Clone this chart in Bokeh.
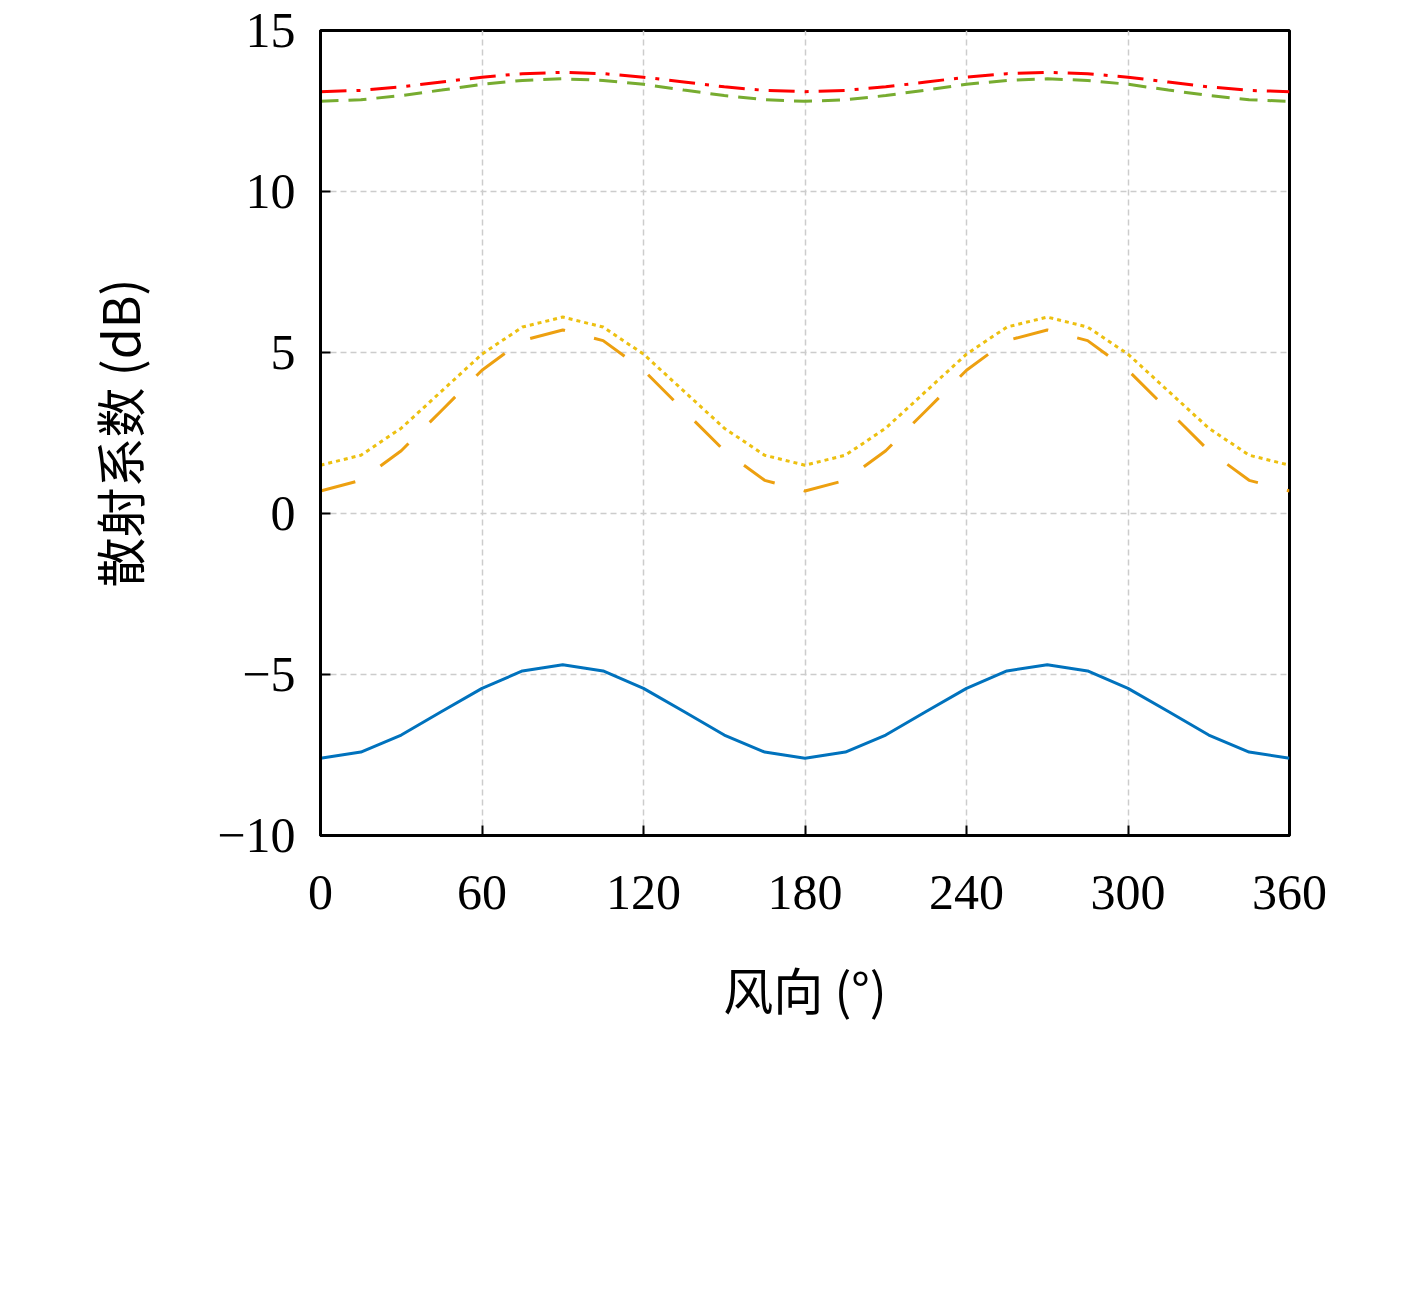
from bokeh.plotting import figure
from bokeh.models import Legend, LegendItem, FixedTicker
from bokeh.embed import file_html
from bokeh.resources import INLINE

wind = [0,15,30,45,60,75,90,105,120,135,150,165,180,195,210,225,240,255,270,285,300,315,330,345,360]
m30 = [-7.6,-7.41,-6.88,-6.15,-5.43,-4.89,-4.7,-4.89,-5.43,-6.15,-6.88,-7.41,-7.6,-7.41,-6.88,-6.15,-5.43,-4.89,-4.7,-4.89,-5.43,-6.15,-6.88,-7.41,-7.6]
m10 = [0.7,1.03,1.95,3.2,4.45,5.37,5.7,5.37,4.45,3.2,1.95,1.03,0.7,1.03,1.95,3.2,4.45,5.37,5.7,5.37,4.45,3.2,1.95,1.03,0.7]
p10 = [13.1,13.14,13.25,13.4,13.55,13.66,13.7,13.66,13.55,13.4,13.25,13.14,13.1,13.14,13.25,13.4,13.55,13.66,13.7,13.66,13.55,13.4,13.25,13.14,13.1]
p30 = [12.8,12.85,12.98,13.15,13.33,13.45,13.5,13.45,13.33,13.15,12.98,12.85,12.8,12.85,12.98,13.15,13.33,13.45,13.5,13.45,13.33,13.15,12.98,12.85,12.8]
p50 = [1.5,1.81,2.65,3.8,4.95,5.79,6.1,5.79,4.95,3.8,2.65,1.81,1.5,1.81,2.65,3.8,4.95,5.79,6.1,5.79,4.95,3.8,2.65,1.81,1.5]
xticks = [0,60,120,180,240,300,360]
yticks = [-10,-5,0,5,10,15]

p = figure(frame_width=969, frame_height=805, x_range=(0,360), y_range=(-10,15),
           output_backend="svg", toolbar_location=None,
           min_border_left=320, min_border_top=30, min_border_right=100,
           min_border_bottom=458)
serif = "Liberation Serif"
r1 = p.line(wind, m30, color="#0072BD", line_width=3)
r2 = p.line(wind, m10, color="#EDA010", line_width=3, line_dash="36 30")
r3 = p.line(wind, p10, color="#FF0000", line_width=3, line_dash="26 10 4 10")
r4 = p.line(wind, p30, color="#77AC30", line_width=3, line_dash="18 10")
r5 = p.line(wind, p50, color="#EDC010", line_width=3, line_dash="4 4")

p.xaxis.ticker = FixedTicker(ticks=xticks)
p.yaxis.ticker = FixedTicker(ticks=yticks)
p.yaxis.major_label_overrides = {-5: "\u22125", -10: "\u221210"}
for ax in (p.xaxis[0], p.yaxis[0]):
    ax.major_label_text_font = serif
    ax.major_label_text_font_size = "50px"
    ax.major_label_text_color = "black"
    ax.axis_label_text_font = "Noto Sans CJK SC"
    ax.axis_label_text_font_size = "50px"
    ax.axis_label_text_font_style = "normal"
    ax.axis_label_text_color = "black"
    ax.major_tick_in = 10
    ax.major_tick_out = 0
    ax.minor_tick_line_color = None
    ax.axis_line_width = 3
    ax.major_tick_line_width = 2
p.xaxis.axis_label = "风向 (°)"
p.yaxis.axis_label = "散射系数 (dB)"
p.xaxis.major_label_standoff = 40
p.xaxis.axis_label_standoff = 40
p.yaxis.major_label_standoff = 25
p.yaxis.axis_label_standoff = 60
p.outline_line_color = "black"
p.outline_line_width = 3
p.grid.grid_line_dash = "6 4"
p.grid.grid_line_color = "#cccccc"
p.grid.grid_line_width = 1.5

common = dict(border_line_color=None, background_fill_alpha=0,
              label_text_font=serif, label_text_font_size="52px",
              glyph_width=155, glyph_height=56, label_standoff=12,
              spacing=14, margin=0, padding=0)
leg1 = Legend(items=[LegendItem(label="\u221230°", renderers=[r1]),
                     LegendItem(label="\u221210°", renderers=[r2]),
                     LegendItem(label="10°", renderers=[r3])],
              location=(142, -449), **common)
leg2 = Legend(items=[LegendItem(label="30°", renderers=[r4]),
                     LegendItem(label="50°", renderers=[r5])],
              location=(552, -379), **common)
p.add_layout(leg1, "center")
p.add_layout(leg2, "center")

open("out.html", "w").write(file_html(p, INLINE))
